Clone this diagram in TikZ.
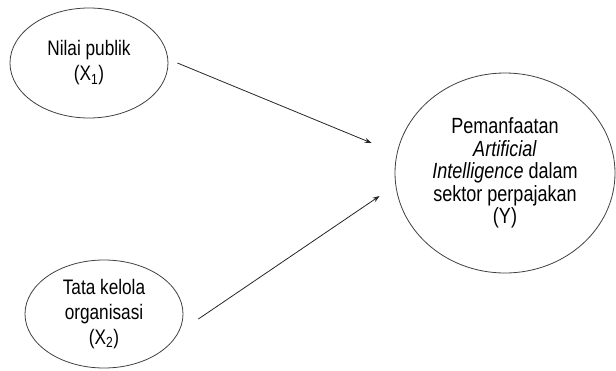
\documentclass[tikz,border=0pt]{standalone}
\usepackage{fontspec}
\setmainfont{Liberation Sans}[FakeStretch=0.82]
\usetikzlibrary{arrows.meta, shapes.geometric}

\begin{document}
\begin{tikzpicture}[
    x=1pt, y=-1pt,
    var/.style  ={ellipse, draw=black!75, line width=0.8pt, inner sep=0pt,
                  align=center, font=\fontsize{21}{25}\selectfont},
    arrow/.style={-{Stealth[length=7pt, width=5pt]}, line width=0.8pt, draw=black!85},
]
\useasboundingbox (0,0) rectangle (616,370);

% ── Variables ──────────────────────────────────────────────────────────
\node[var, minimum width=158pt, minimum height=110pt] (x1) at (89,63)
      {Nilai publik\\(X\textsubscript{1})};
\node[var, minimum width=158pt, minimum height=108pt] (x2) at (104,314)
      {Tata kelola\\organisasi\\(X\textsubscript{2})};
\node[var, minimum width=220pt, minimum height=200pt,
      font=\fontsize{22}{22.5}\selectfont] (y) at (505,173)
      {Pemanfaatan\\\textit{Artificial}\\\textit{Intelligence} dalam\\sektor perpajakan\\(Y)};

% ── Arrow ends ─────────────────────────────────────────────────────────
\coordinate (x1out) at ([xshift=9pt]x1.east);
\coordinate (x2out) at ([xshift=15pt, yshift=-5pt]x2.east);
\coordinate (yin1)  at ([xshift=-23pt, yshift=30pt]y.west);
\coordinate (yin2)  at ([xshift=-15pt, yshift=-23pt]y.west);

% ── Arrows ─────────────────────────────────────────────────────────────
\draw[arrow] (x1out) -- (yin1);
\draw[arrow] (x2out) -- (yin2);

\end{tikzpicture}
\end{document}
